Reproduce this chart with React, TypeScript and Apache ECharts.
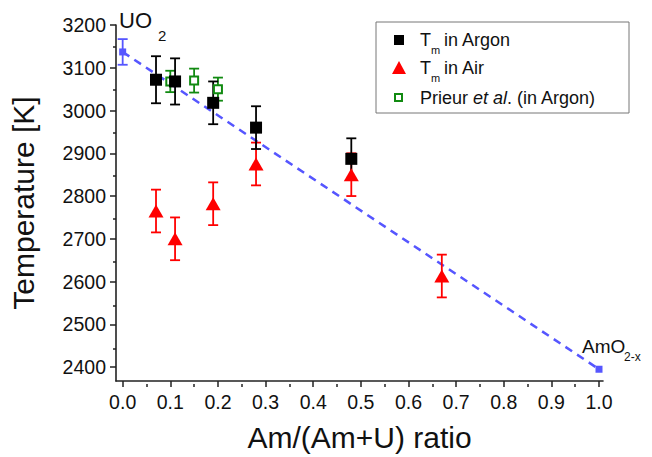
import React, { useEffect, useRef } from "react";
import * as echarts from "echarts";

// ---- data ----
const argonX = [0.07, 0.11, 0.19, 0.28, 0.48];
const argonT = [3072, 3068, 3018, 2960, 2887];
const argonErr = [55, 54, 50, 50, 48];

const airX = [0.07, 0.11, 0.19, 0.28, 0.48, 0.67];
const airT = [2765, 2700, 2782, 2875, 2850, 2613];
const airErr = [50, 50, 50, 50, 50, 50];

const prieurX = [0.1, 0.15, 0.2];
const prieurT = [3068, 3070, 3050];
const prieurErr = [25, 28, 27];

const endX = [0, 1];
const endT = [3137, 2395];
const endErr = [30, 0];

const xTicks = [0, 0.1, 0.2, 0.3, 0.4, 0.5, 0.6, 0.7, 0.8, 0.9, 1.0];
const xMinorTicks = [0.05, 0.15, 0.25, 0.35, 0.45, 0.55, 0.65, 0.75, 0.85, 0.95];
const yTicks = [2400, 2500, 2600, 2700, 2800, 2900, 3000, 3100, 3200];
const yMinorTicks = [2450, 2550, 2650, 2750, 2850, 2950, 3050, 3150];

const X_MIN = -0.014;
const X_MAX = 1.0084;
const Y_MIN = 2367.5;
const Y_MAX = 3200;

const FONT = "'Liberation Sans', Arial, sans-serif";
const BLUE = "#5656ff";
const RED = "#ff0000";
const GREEN = "#118a11";

const pts = (xs: number[], ys: number[]) => xs.map((x, i) => [x, ys[i]]);
const errs = (xs: number[], ys: number[], es: number[]) =>
  xs.map((x, i) => [x, ys[i] - es[i], ys[i] + es[i]]).filter((d, i) => es[i] > 0);

const CAP = 5;
const errRender = (color: string) => (params: any, api: any) => {
  const x = api.value(0);
  const lo = api.coord([x, api.value(1)]);
  const hi = api.coord([x, api.value(2)]);
  const st = { stroke: color, lineWidth: 1.8 };
  return {
    type: "group",
    children: [
      { type: "line", shape: { x1: lo[0], y1: lo[1], x2: hi[0], y2: hi[1] }, style: st },
      { type: "line", shape: { x1: lo[0] - CAP, y1: lo[1], x2: lo[0] + CAP, y2: lo[1] }, style: st },
      { type: "line", shape: { x1: hi[0] - CAP, y1: hi[1], x2: hi[0] + CAP, y2: hi[1] }, style: st },
    ],
  };
};

export default function App() {
  const ref = useRef<HTMLDivElement>(null);
  useEffect(() => {
    const chart = echarts.init(ref.current!, null, { renderer: "svg" });
    const gridPos = { left: 116, right: 49, top: 25, bottom: 73 };
    const txt = (text: string, x: number, y: number, size: number, extra: any = {}) => ({
      type: "text",
      x,
      y,
      style: { text, fontSize: size, fontFamily: FONT, fill: "#111", ...extra },
    });
    const legX = 420;
    const LF = 18;
    chart.setOption({
      animation: false,
      backgroundColor: "#fff",
      grid: [
        { ...gridPos, containLabel: false },
        { ...gridPos, containLabel: false },
      ],
      xAxis: [
        {
          type: "value",
          gridIndex: 0,
          min: X_MIN,
          max: X_MAX,
          name: "Am/(Am+U) ratio",
          nameLocation: "middle",
          nameGap: 41,
          nameTextStyle: { fontSize: 30, fontFamily: FONT, color: "#111" },
          axisLine: { show: true, onZero: false, lineStyle: { color: "#222", width: 1.6 } },
          axisTick: { show: true, customValues: xTicks, length: 6, lineStyle: { color: "#222", width: 1.5 } },
          axisLabel: {
            customValues: xTicks,
            fontSize: 19.5,
            fontFamily: FONT,
            color: "#111",
            margin: 11,
            formatter: (v: number) => v.toFixed(1),
          },
          splitLine: { show: false },
        },
        {
          type: "value",
          gridIndex: 1,
          min: X_MIN,
          max: X_MAX,
          axisLine: { show: false, onZero: false },
          axisTick: { show: true, customValues: xMinorTicks, length: 3, lineStyle: { color: "#222", width: 1.5 } },
          axisLabel: { show: false },
          splitLine: { show: false },
        },
      ],
      yAxis: [
        {
          type: "value",
          gridIndex: 0,
          min: Y_MIN,
          max: Y_MAX,
          name: "Temperature [K]",
          nameLocation: "middle",
          nameGap: 78,
          nameTextStyle: { fontSize: 30, fontFamily: FONT, color: "#111" },
          axisLine: { show: true, onZero: false, lineStyle: { color: "#222", width: 1.6 } },
          axisTick: { show: true, customValues: yTicks, length: 6, lineStyle: { color: "#222", width: 1.5 } },
          axisLabel: {
            customValues: yTicks,
            fontSize: 19.5,
            fontFamily: FONT,
            color: "#111",
            margin: 10,
            formatter: (v: number) => String(v),
          },
          splitLine: { show: false },
        },
        {
          type: "value",
          gridIndex: 1,
          min: Y_MIN,
          max: Y_MAX,
          axisLine: { show: false, onZero: false },
          axisTick: { show: true, customValues: yMinorTicks, length: 3, lineStyle: { color: "#222", width: 1.5 } },
          axisLabel: { show: false },
          splitLine: { show: false },
        },
      ],
      series: [
        {
          type: "line",
          data: pts(endX, endT),
          symbol: "rect",
          symbolSize: 7,
          itemStyle: { color: BLUE, opacity: 1 },
          lineStyle: { color: BLUE, width: 2.5, type: [8, 6] },
          z: 1,
        },
        { type: "custom", data: errs(endX, endT, endErr), renderItem: errRender(BLUE), encode: { x: 0, y: [1, 2] } },
        { type: "custom", data: errs(airX, airT, airErr), renderItem: errRender(RED), encode: { x: 0, y: [1, 2] } },
        {
          type: "scatter",
          data: pts(airX, airT),
          symbol: "triangle",
          symbolSize: [15, 13],
          itemStyle: { color: RED, opacity: 1 },
        },
        { type: "custom", data: errs(prieurX, prieurT, prieurErr), renderItem: errRender(GREEN), encode: { x: 0, y: [1, 2] } },
        {
          type: "scatter",
          data: pts(prieurX, prieurT),
          symbol: "rect",
          symbolSize: 8,
          itemStyle: { color: "#fff", borderColor: GREEN, borderWidth: 2, opacity: 1 },
        },
        {
          type: "scatter",
          data: pts(argonX, argonT),
          symbol: "rect",
          symbolSize: 12,
          itemStyle: { color: "#000", opacity: 1 },
        },
        { type: "custom", data: errs(argonX, argonT, argonErr), renderItem: errRender("#000"), encode: { x: 0, y: [1, 2] } },
      ],
      graphic: [
        {
          type: "rect",
          shape: { x: 376, y: 22, width: 253, height: 91 },
          style: { fill: "#fff", stroke: "#777", lineWidth: 1 },
          z: 10,
        },
        { type: "rect", shape: { x: 394, y: 35, width: 10, height: 10 }, style: { fill: "#000" }, z: 11 },
        {
          type: "polygon",
          shape: { points: [[399, 61], [406, 74], [392, 74]] },
          style: { fill: RED },
          z: 11,
        },
        {
          type: "rect",
          shape: { x: 395, y: 94, width: 7, height: 7 },
          style: { fill: "#fff", stroke: GREEN, lineWidth: 2 },
          z: 11,
        },
        { ...txt("T", legX, 31, LF), z: 11 },
        { ...txt("m", legX + 11, 44, 11), z: 11 },
        { ...txt("in Argon", legX + 24, 31, LF), z: 11 },
        { ...txt("T", legX, 59, LF), z: 11 },
        { ...txt("m", legX + 11, 72, 11), z: 11 },
        { ...txt("in Air", legX + 24, 59, LF), z: 11 },
        { ...txt("Prieur ", legX, 89, LF), z: 11 },
        { ...txt("et al", legX + 53, 89, LF, { fontStyle: "italic" }), z: 11 },
        { ...txt(". (in Argon)", legX + 87, 89, LF), z: 11 },
        txt("UO", 119, 9, 22),
        txt("2", 158, 28, 15),
        txt("AmO", 582, 337, 19),
        txt("2-x", 624, 351, 12),
      ],
    });
    return () => chart.dispose();
  }, []);
  return (
    <div
      ref={ref}
      style={{ position: "fixed", left: 0, top: 0, width: 652, height: 457 }}
    />
  );
}
